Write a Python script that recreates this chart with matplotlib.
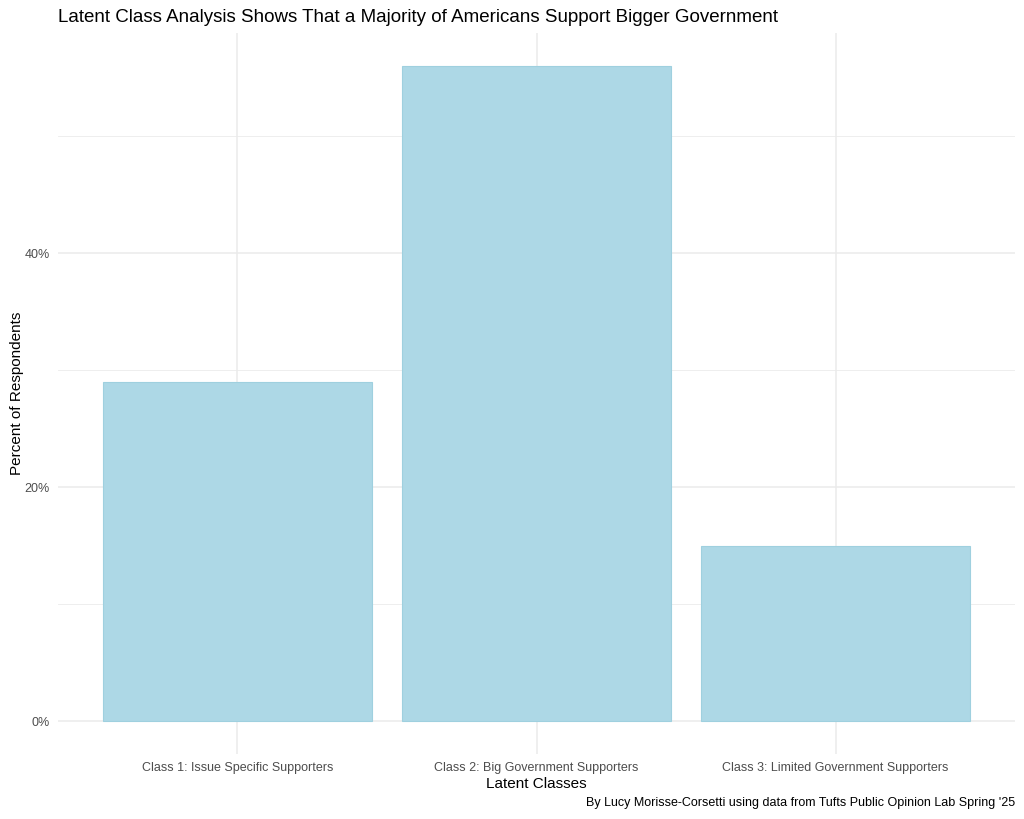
import matplotlib
matplotlib.use("Agg")
from matplotlib import pyplot as plt
from matplotlib.ticker import FuncFormatter, MultipleLocator

plt.rcParams['font.family'] = ['Liberation Sans', 'DejaVu Sans']

classes = ['Class 1: Issue Specific Supporters',
           'Class 2: Big Government Supporters',
           'Class 3: Limited Government Supporters']
percent = [29.0, 56.0, 15.0]   # share of respondents, %

fig = plt.figure(figsize=(10.24, 8.19), dpi=100)
ax = fig.add_axes([58/1024, 1-754/819, (1015-58)/1024, (754-33)/819])

x = range(1, len(classes)+1)
ax.bar(x, percent, width=0.9, color='#ADD8E6', edgecolor='#9fd0df', linewidth=0.8, zorder=2)

ax.set_xlim(0.4, 3.6)
ax.set_ylim(-2.8, 58.8)
ax.set_xticks(list(x))
ax.set_xticklabels(classes, fontsize=9, color='#4D4D4D')
ax.yaxis.set_major_locator(MultipleLocator(20))
ax.yaxis.set_minor_locator(MultipleLocator(10))
ax.yaxis.set_major_formatter(FuncFormatter(lambda v, p: '%d%%' % v))
ax.tick_params(axis='y', labelsize=9, labelcolor='#4D4D4D', length=0, pad=6)
ax.tick_params(axis='x', length=0, pad=6)
ax.tick_params(which='minor', length=0)

ax.grid(which='major', color='#EBEBEB', linewidth=1.1, zorder=0)
ax.grid(which='minor', axis='y', color='#EBEBEB', linewidth=0.6, zorder=0)
for s in ax.spines.values():
    s.set_visible(False)

ax.set_xlabel('Latent Classes', fontsize=11, labelpad=2)
ax.set_ylabel('Percent of Respondents', fontsize=11, labelpad=0)
fig.text(58/1024, 1-17/819, 'Latent Class Analysis Shows That a Majority of Americans Support Bigger Government',
         fontsize=13.5, ha='left', va='center')
fig.text(1015/1024, 1-803/819, "By Lucy Morisse-Corsetti using data from Tufts Public Opinion Lab Spring '25",
         fontsize=9, ha='right', va='center')

fig.savefig('out.png', dpi=100)
